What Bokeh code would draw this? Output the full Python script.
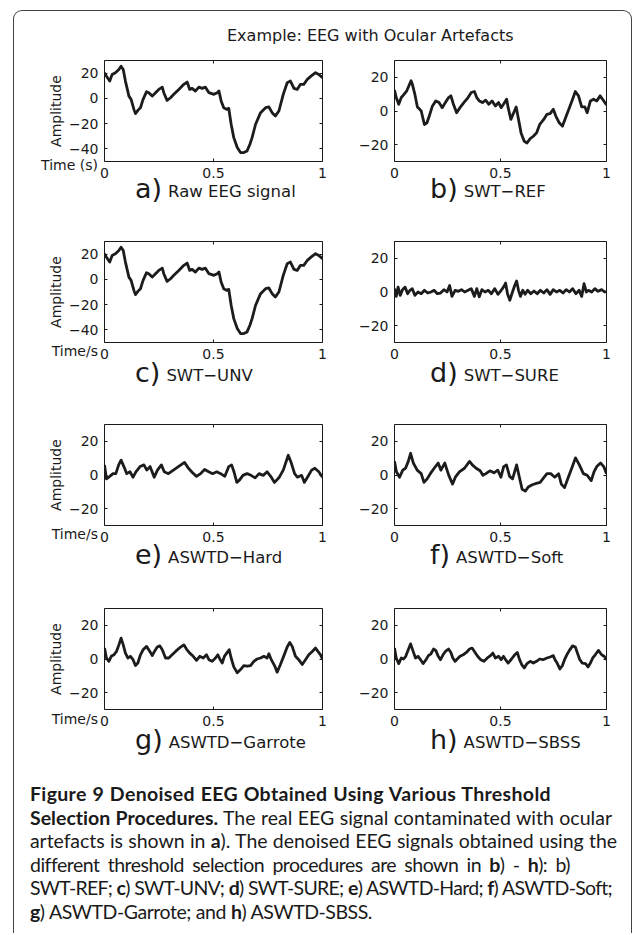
from bokeh.plotting import figure
from bokeh.layouts import column, row
from bokeh.models import Div, Spacer, LinearAxis, FixedTicker, Range1d
from bokeh.embed import file_html
from bokeh.resources import INLINE

# ---------------- data ----------------
raw_eeg_t = [0.000, 0.009, 0.024, 0.035, 0.050, 0.066, 0.076, 0.086, 0.096, 0.112,
             0.122, 0.135, 0.142, 0.153, 0.165, 0.177, 0.193, 0.203, 0.219, 0.234,
             0.249, 0.265, 0.272, 0.287, 0.303, 0.318, 0.341, 0.364, 0.379, 0.391,
             0.402, 0.417, 0.433, 0.448, 0.463, 0.479, 0.502, 0.517, 0.525, 0.535,
             0.547, 0.560, 0.570, 0.581, 0.593, 0.609, 0.624, 0.639, 0.654, 0.667,
             0.677, 0.693, 0.716, 0.739, 0.754, 0.769, 0.784, 0.800, 0.820, 0.838,
             0.853, 0.869, 0.884, 0.899, 0.914, 0.930, 0.953, 0.968, 0.983, 1.000]
raw_eeg_v = [20.3, 17.6, 13.7, 18.9, 20.3, 22.9, 25.5, 22.9, 13.7, 1.8,
             -0.8, -8.7, -12.1, -9.5, -7.4, -0.8, 5.3, 4.5, 1.8, 4.5,
             7.1, 8.9, 4.5, -1.6, 0.5, 3.2, 7.1, 11.1, 12.9, 7.1,
             7.9, 5.8, 8.9, 7.9, 8.9, 4.5, 3.2, 4.5, 5.8, -2.1,
             -7.4, -8.7, -7.9, -20.5, -31.1, -38.9, -42.9, -42.9, -41.6, -36.3,
             -31.1, -20.5, -11.3, -7.4, -6.8, -11.3, -13.9, -10.0, 3.2, 12.4,
             13.7, 7.9, 7.1, 11.1, 11.1, 15.0, 18.4, 20.3, 18.9, 16.3]

swt_ref_t = [0.000, 0.008, 0.020, 0.032, 0.043, 0.058, 0.068, 0.078, 0.084, 0.096,
             0.108, 0.119, 0.126, 0.141, 0.153, 0.164, 0.179, 0.195, 0.210, 0.225,
             0.240, 0.255, 0.266, 0.278, 0.293, 0.309, 0.327, 0.347, 0.362, 0.377,
             0.388, 0.400, 0.415, 0.430, 0.445, 0.460, 0.476, 0.491, 0.503, 0.514,
             0.529, 0.536, 0.549, 0.559, 0.574, 0.582, 0.597, 0.612, 0.625, 0.640,
             0.655, 0.670, 0.685, 0.704, 0.719, 0.734, 0.749, 0.761, 0.777, 0.792,
             0.807, 0.825, 0.840, 0.853, 0.868, 0.883, 0.898, 0.909, 0.924, 0.939,
             0.954, 0.970, 0.985, 1.000]
swt_ref_v = [12.4, 8.0, 4.0, 8.0, 9.6, 12.0, 15.0, 18.0, 16.0, 10.0,
             2.4, 1.0, 0.0, -8.0, -7.0, -3.0, 3.0, 6.0, 5.0, 2.0,
             5.0, 8.0, 9.0, 4.0, -1.0, 2.0, 5.0, 8.0, 11.0, 11.6,
             8.0, 6.0, 5.0, 6.4, 4.0, 6.0, 3.0, 5.0, 2.0, 4.0,
             7.0, 2.0, -5.0, -2.0, 2.4, -3.0, -13.0, -18.0, -19.0, -16.4,
             -15.0, -13.0, -8.0, -5.0, -2.0, -1.6, 1.0, -3.0, -7.0, -9.0,
             -4.0, 2.0, 7.0, 11.6, 9.0, 2.4, 2.4, -1.0, 6.0, 7.0,
             6.0, 9.0, 6.4, 3.6]

swt_unv_t = [0.000, 0.009, 0.024, 0.035, 0.050, 0.066, 0.076, 0.086, 0.096, 0.112,
             0.122, 0.135, 0.142, 0.153, 0.165, 0.177, 0.193, 0.203, 0.219, 0.234,
             0.249, 0.265, 0.272, 0.287, 0.303, 0.318, 0.341, 0.364, 0.379, 0.391,
             0.402, 0.417, 0.433, 0.448, 0.463, 0.479, 0.502, 0.517, 0.525, 0.535,
             0.547, 0.560, 0.570, 0.581, 0.593, 0.609, 0.624, 0.639, 0.654, 0.667,
             0.677, 0.693, 0.716, 0.739, 0.754, 0.769, 0.784, 0.800, 0.820, 0.838,
             0.853, 0.869, 0.884, 0.899, 0.914, 0.930, 0.953, 0.968, 0.983, 1.000]
swt_unv_v = [20.3, 17.6, 13.7, 18.9, 20.3, 22.9, 25.5, 22.9, 13.7, 1.8,
             -0.8, -8.7, -12.1, -9.5, -7.4, -0.8, 5.3, 4.5, 1.8, 4.5,
             7.1, 8.9, 4.5, -1.6, 0.5, 3.2, 7.1, 11.1, 12.9, 7.1,
             7.9, 5.8, 8.9, 7.9, 8.9, 4.5, 3.2, 4.5, 5.8, -2.1,
             -7.4, -8.7, -7.9, -20.5, -31.1, -38.9, -42.9, -42.9, -41.6, -36.3,
             -31.1, -20.5, -11.3, -7.4, -6.8, -11.3, -13.9, -10.0, 3.2, 12.4,
             13.7, 7.9, 7.1, 11.1, 11.1, 15.0, 18.4, 20.3, 18.9, 16.3]

swt_sure_t = [0.000, 0.008, 0.017, 0.027, 0.038, 0.050, 0.062, 0.073, 0.084, 0.096,
              0.111, 0.126, 0.141, 0.157, 0.172, 0.187, 0.202, 0.217, 0.233, 0.248,
              0.260, 0.271, 0.286, 0.301, 0.316, 0.331, 0.347, 0.362, 0.377, 0.388,
              0.400, 0.412, 0.427, 0.442, 0.457, 0.473, 0.488, 0.503, 0.514, 0.524,
              0.533, 0.544, 0.555, 0.567, 0.576, 0.585, 0.594, 0.605, 0.616, 0.628,
              0.643, 0.658, 0.673, 0.688, 0.704, 0.719, 0.734, 0.749, 0.764, 0.780,
              0.795, 0.810, 0.825, 0.840, 0.856, 0.871, 0.883, 0.894, 0.905, 0.915,
              0.930, 0.945, 0.960, 0.977, 0.992, 1.000]
swt_sure_v = [2.0, -2.6, 2.9, -2.0, 1.4, 2.9, -1.0, 1.0, 2.0, -2.0,
              0.0, -1.0, 1.0, -0.6, 0.0, 1.0, -1.0, -0.6, 1.4, 0.0,
              3.9, -2.6, 1.0, 0.4, 1.4, 0.0, 1.0, 2.0, -2.6, 2.0,
              -2.9, 1.4, 0.0, 1.0, -1.0, 2.0, -1.4, 1.0, 2.9, 5.3,
              -1.0, -4.9, -0.6, 3.9, 6.5, 1.0, -2.6, 1.0, -1.4, 1.0,
              -1.0, 0.6, -1.0, 1.0, -0.6, 1.4, -1.4, 1.4, 0.0, 1.0,
              -0.6, 1.4, 0.0, 2.0, -1.0, 1.0, -2.6, 4.9, 0.0, 1.0,
              0.0, 2.0, 0.4, 1.4, 0.0, 0.2]

aswtd_hard_t = [0.000, 0.009, 0.024, 0.039, 0.052, 0.065, 0.076, 0.089, 0.102, 0.117,
                0.131, 0.144, 0.163, 0.181, 0.194, 0.209, 0.228, 0.243, 0.261, 0.274,
                0.293, 0.311, 0.339, 0.367, 0.385, 0.404, 0.422, 0.441, 0.459, 0.478,
                0.496, 0.515, 0.533, 0.552, 0.570, 0.583, 0.594, 0.607, 0.620, 0.635,
                0.654, 0.672, 0.691, 0.709, 0.728, 0.746, 0.765, 0.780, 0.802, 0.820,
                0.843, 0.857, 0.872, 0.885, 0.904, 0.917, 0.931, 0.950, 0.965, 0.983,
                1.000]
aswtd_hard_v = [6.0, -2.3, -0.8, 0.8, 0.8, 6.0, 8.8, 5.0, 0.8, 1.9,
                -1.3, 1.9, 5.0, 6.0, 2.9, 5.0, -1.3, 2.9, 6.0, 1.9,
                0.8, 2.5, 5.0, 7.5, 4.0, 1.3, -0.8, 0.8, 3.3, 1.9,
                0.8, 1.9, 0.8, -0.8, 5.0, 6.0, 1.9, -4.4, -2.9, -0.2,
                0.8, -0.2, -1.7, 0.8, -0.2, 1.9, -1.3, -4.4, -1.3, 2.9,
                11.7, 7.1, 0.8, -1.3, -0.2, -4.4, -1.3, 2.9, 4.0, 1.9,
                -1.3]

aswtd_soft_t = [0.000, 0.009, 0.024, 0.039, 0.052, 0.065, 0.076, 0.089, 0.107, 0.126,
                0.139, 0.154, 0.169, 0.187, 0.206, 0.219, 0.237, 0.256, 0.274, 0.287,
                0.306, 0.330, 0.354, 0.367, 0.385, 0.404, 0.417, 0.431, 0.450, 0.469,
                0.487, 0.502, 0.515, 0.528, 0.543, 0.557, 0.576, 0.589, 0.602, 0.617,
                0.631, 0.650, 0.669, 0.687, 0.706, 0.719, 0.737, 0.756, 0.774, 0.787,
                0.802, 0.820, 0.839, 0.854, 0.872, 0.891, 0.909, 0.928, 0.941, 0.954,
                0.972, 0.987, 1.000]
aswtd_soft_v = [8.1, 1.9, -1.3, 2.9, 4.0, 8.1, 12.9, 7.1, 2.9, 0.8,
                -4.4, -2.3, 0.8, 4.0, 7.1, 2.9, 7.1, -0.2, -5.4, -1.3,
                1.9, 4.0, 8.1, 6.0, 4.0, 2.5, -0.2, 0.8, 2.5, 1.3,
                2.9, -1.3, 5.0, 6.0, -0.8, -2.3, 6.0, -1.3, -8.5, -9.6,
                -7.1, -5.8, -5.0, -4.4, -1.3, 0.8, 0.8, -1.3, 0.8, -5.4,
                -7.5, -1.3, 5.0, 10.2, 6.0, 0.8, -0.2, -3.3, 1.9, 5.0,
                7.1, 5.0, 0.8]

aswtd_garrote_t = [0.000, 0.009, 0.020, 0.031, 0.043, 0.055, 0.066, 0.076, 0.086, 0.096,
                   0.107, 0.119, 0.131, 0.142, 0.153, 0.165, 0.177, 0.193, 0.208, 0.219,
                   0.229, 0.242, 0.254, 0.265, 0.280, 0.295, 0.310, 0.326, 0.349, 0.364,
                   0.376, 0.391, 0.407, 0.422, 0.437, 0.453, 0.468, 0.479, 0.494, 0.509,
                   0.520, 0.529, 0.540, 0.550, 0.563, 0.572, 0.581, 0.593, 0.609, 0.624,
                   0.639, 0.654, 0.670, 0.685, 0.700, 0.716, 0.731, 0.746, 0.754, 0.765,
                   0.780, 0.792, 0.807, 0.823, 0.838, 0.850, 0.861, 0.876, 0.891, 0.907,
                   0.922, 0.937, 0.953, 0.968, 0.979, 0.991, 1.000]
aswtd_garrote_v = [6.5, 0.6, -1.4, 1.6, 2.5, 4.5, 8.4, 12.4, 8.4, 3.5,
                   0.6, 1.6, -0.4, -3.9, -2.4, 2.5, 5.5, 7.5, 4.5, 2.0,
                   4.5, 7.1, 7.8, 5.5, 0.6, 0.6, 2.5, 4.5, 7.1, 8.4,
                   5.9, 3.5, 1.6, -0.8, 1.6, 0.6, 2.5, -0.4, -1.4, 0.6,
                   2.5, 0.0, -2.4, 1.6, 3.9, 5.5, 0.6, -4.7, -8.2, -6.3,
                   -3.9, -4.3, -3.9, -1.4, 0.0, 0.6, 1.6, 0.6, 3.1, -0.4,
                   -3.9, -7.8, -3.3, 2.0, 7.1, 9.8, 7.5, 1.6, -0.4, -3.3,
                   -0.4, 2.5, 4.5, 6.5, 4.5, 2.5, 0.0]

aswtd_sbss_t = [0.000, 0.008, 0.020, 0.032, 0.043, 0.053, 0.065, 0.076, 0.088, 0.099,
                0.111, 0.123, 0.135, 0.149, 0.160, 0.172, 0.184, 0.195, 0.205, 0.217,
                0.229, 0.240, 0.255, 0.266, 0.275, 0.286, 0.296, 0.309, 0.324, 0.339,
                0.354, 0.366, 0.377, 0.392, 0.407, 0.422, 0.438, 0.453, 0.464, 0.476,
                0.491, 0.503, 0.514, 0.524, 0.536, 0.552, 0.567, 0.579, 0.590, 0.600,
                0.612, 0.625, 0.640, 0.655, 0.670, 0.685, 0.701, 0.719, 0.734, 0.749,
                0.757, 0.767, 0.780, 0.792, 0.802, 0.813, 0.825, 0.840, 0.853, 0.863,
                0.874, 0.886, 0.901, 0.913, 0.924, 0.935, 0.947, 0.962, 0.977, 0.989,
                1.000]
aswtd_sbss_v = [6.5, 0.6, -2.7, 0.6, 0.0, 1.6, 5.5, 9.0, 4.5, 0.6,
                1.6, -0.4, -2.7, -0.4, 2.0, 3.1, 5.9, 5.1, 2.0, -0.4,
                2.5, 4.5, 5.9, 3.9, 0.6, -1.4, 0.0, 1.6, 2.5, 3.9,
                5.9, 6.5, 4.5, 1.6, -0.4, -1.4, 0.6, 2.0, 3.5, 0.6,
                1.6, -0.4, 1.6, -0.4, -2.4, 0.0, 2.5, 3.9, -0.4, -3.3,
                -5.3, -2.7, -1.4, -2.4, -1.4, 0.0, -0.4, 0.6, 1.2, 2.0,
                -0.4, -2.4, -5.9, -3.9, -0.4, 2.5, 5.1, 7.8, 7.1, 3.5,
                -0.4, -2.4, -2.7, -4.7, -2.4, 0.6, 2.5, 5.1, 2.5, 1.6,
                -0.4]

x_ticks = [0, 0.5, 1]
x_tick_labels = ["0", "0.5", "1"]
y_ticks_raw = [-40, -20, 0, 20]
y_ticks_den = [-20, 0, 20]
y_tick_labels = {-40: "\u221240", -20: "\u221220", 0: "0", 20: "20"}
y_range_raw = (-50, 30)
y_range_den = (-30, 30)

panel_letters = ["a", "b", "c", "d", "e", "f", "g", "h"]
panel_names = ["Raw EEG signal", "SWT\u2212REF", "SWT\u2212UNV", "SWT\u2212SURE",
               "ASWTD\u2212Hard", "ASWTD\u2212Soft", "ASWTD\u2212Garrote", "ASWTD\u2212SBSS"]
time_labels = ["Time (s)", "Time/s", "Time/s", "Time/s"]
title_text = "Example: EEG with Ocular Artefacts"
caption_lines = [
    '<b>Figure 9 Denoised EEG Obtained Using Various Threshold</b>',
    '<b>Selection Procedures.</b> The real EEG signal contaminated with ocular',
    'artefacts is shown in <b>a</b>). The denoised EEG signals obtained using the',
    'different threshold selection procedures are shown in <b>b</b>) - <b>h</b>): b)',
    'SWT-REF; <b>c</b>) SWT-UNV; <b>d</b>) SWT-SURE; <b>e</b>) ASWTD-Hard; <b>f</b>) ASWTD-Soft;',
    '<b>g</b>) ASWTD-Garrote; and <b>h</b>) ASWTD-SBSS.',
]

# ---------------- styling / geometry (page pixels) ----------------
FONT = "DejaVu Sans"
INK = "#1a1a1a"
FRAME_H = 101
PAGE_W = 634
PAGE_H = 934
TOP_GAP = 50
BIG = 27
SMALL = 16.5
BIG_ADV = {"a": 0.613, "b": 0.635, "c": 0.550, "d": 0.635, "e": 0.615,
           "f": 0.352, "g": 0.635, "h": 0.634}
ROWS = [(10, 51), (29, 52), (30, 52), (31, 51)]   # (top border, bottom border) per panel row
CAP_BASE = [198, 381.5, 564, 749]                  # caption baselines
TIME_BASE = [170, 356, 539, 724]                   # "Time" label baselines
CAP_LINE_W = [521, 582, 587, 540, 582, 342]        # widths of the figure-caption lines
CAP_LINE_LS = [0.34, 0.02, -0.07, -0.5, -0.7, -0.46]


def style_axis(ax, show_labels):
    ax.axis_line_color = None
    ax.major_tick_in = 3
    ax.major_tick_out = 0
    ax.major_tick_line_color = INK
    ax.major_tick_line_width = 1
    ax.minor_tick_line_color = None
    ax.major_label_text_font = FONT
    if show_labels:
        ax.major_label_text_color = INK
        ax.major_label_text_font_size = "14px"
        ax.major_label_standoff = 6
    else:
        ax.major_label_text_color = None
        ax.major_label_text_font_size = "1px"
        ax.major_label_standoff = 0


def make_panel(t, v, yr, yticks, side, top_b, bot_b):
    if side == "L":
        w, bl, br = 355, 104, 33
    else:
        w, bl, br = PAGE_W - 355, 32, PAGE_W - 355 - 32 - 219
    p = figure(width=w, height=top_b + FRAME_H + bot_b,
               x_range=Range1d(0, 1), y_range=Range1d(*yr),
               x_axis_type=None, y_axis_type=None,
               output_backend="svg", toolbar_location=None,
               min_border_left=bl, min_border_right=br,
               min_border_top=top_b, min_border_bottom=bot_b)
    p.outline_line_color = INK
    p.outline_line_width = 1
    p.background_fill_color = "white"
    p.border_fill_color = "white"

    xo = {tk: lb for tk, lb in zip(x_ticks, x_tick_labels)}
    yo = {tk: y_tick_labels[tk] for tk in yticks}
    for loc in ("below", "above"):
        ax = LinearAxis(ticker=FixedTicker(ticks=x_ticks), major_label_overrides=xo)
        style_axis(ax, loc == "below")
        p.add_layout(ax, loc)
    for loc in ("left", "right"):
        ax = LinearAxis(ticker=FixedTicker(ticks=yticks), major_label_overrides=yo)
        style_axis(ax, loc == "left")
        if loc == "left" and side == "L":
            ax.axis_label = "Amplitude"
            ax.axis_label_text_font = FONT
            ax.axis_label_text_font_size = "14px"
            ax.axis_label_text_font_style = "normal"
            ax.axis_label_text_color = INK
            ax.axis_label_standoff = 2
        p.add_layout(ax, loc)

    p.line(t, v, line_color="#1c1c1c", line_width=2.8, line_join="round")
    return p


pa = make_panel(raw_eeg_t, raw_eeg_v, y_range_raw, y_ticks_raw, "L", *ROWS[0])
pb = make_panel(swt_ref_t, swt_ref_v, y_range_den, y_ticks_den, "R", *ROWS[0])
pc = make_panel(swt_unv_t, swt_unv_v, y_range_raw, y_ticks_raw, "L", *ROWS[1])
pd = make_panel(swt_sure_t, swt_sure_v, y_range_den, y_ticks_den, "R", *ROWS[1])
pe = make_panel(aswtd_hard_t, aswtd_hard_v, y_range_den, y_ticks_den, "L", *ROWS[2])
pf = make_panel(aswtd_soft_t, aswtd_soft_v, y_range_den, y_ticks_den, "R", *ROWS[2])
pg = make_panel(aswtd_garrote_t, aswtd_garrote_v, y_range_den, y_ticks_den, "L", *ROWS[3])
ph = make_panel(aswtd_sbss_t, aswtd_sbss_v, y_range_den, y_ticks_den, "R", *ROWS[3])


# ---------------- overlay: frame border, title, panel captions, figure caption ----------------
def span(left, top, txt, size, font=FONT, extra=""):
    return (f'<span style="position:absolute;left:{left:.1f}px;top:{top:.1f}px;'
            f'font-family:\'{font}\';font-size:{size}px;line-height:{size}px;'
            f'white-space:nowrap;color:{INK};{extra}">{txt}</span>')


parts = ['<div style="position:absolute;left:13px;top:10px;width:619px;height:923px;'
         'border-left:1px solid #444;border-top:1px solid #444;border-right:1px solid #444;'
         'border-top-left-radius:9px;border-top-right-radius:9px;"></div>']
parts.append(span(227, 41.7 - 0.846 * 16, title_text, 16))
for i, (letter, name) in enumerate(zip(panel_letters, panel_names)):
    r = i // 2
    big_x = 135 if i % 2 == 0 else 430
    base = CAP_BASE[r]
    parts.append(span(big_x, base - 0.846 * BIG, letter + ")", BIG))
    small_x = big_x + (BIG_ADV[letter] + 0.390) * BIG + 6
    parts.append(span(small_x, base - 0.846 * SMALL, name, SMALL))
for r in range(4):
    parts.append(span(0, TIME_BASE[r] - 0.846 * 14, time_labels[r], 14,
                      extra="width:98px;text-align:right;"))

cap_rows = ''.join(
    f'<div style="width:{w}px;height:23.6px;letter-spacing:{ls}px;white-space:nowrap;'
    f'text-align:justify;text-align-last:justify;">{txt}</div>'
    for txt, w, ls in zip(caption_lines, CAP_LINE_W, CAP_LINE_LS))
parts.append('<div style="position:absolute;left:30px;top:782px;font-family:Lato;'
             f'font-size:19.5px;line-height:23.6px;color:{INK};">' + cap_rows + '</div>')
overlay_html = (f'<div style="position:relative;width:{PAGE_W}px;height:{PAGE_H}px;">'
                + ''.join(parts) + '</div>')

top_gap = Spacer(width=PAGE_W, height=TOP_GAP)
bottom_gap = Spacer(width=PAGE_W, height=PAGE_H - TOP_GAP - sum(a + b + FRAME_H for a, b in ROWS))
overlay = Div(text=overlay_html, width=PAGE_W, height=PAGE_H, margin=(-PAGE_H, 0, 0, 0))

layout = column(top_gap, row(pa, pb), row(pc, pd), row(pe, pf), row(pg, ph), bottom_gap, overlay)

with open("out.html", "w") as f:
    f.write(file_html(layout, INLINE, title="EEG denoising"))
